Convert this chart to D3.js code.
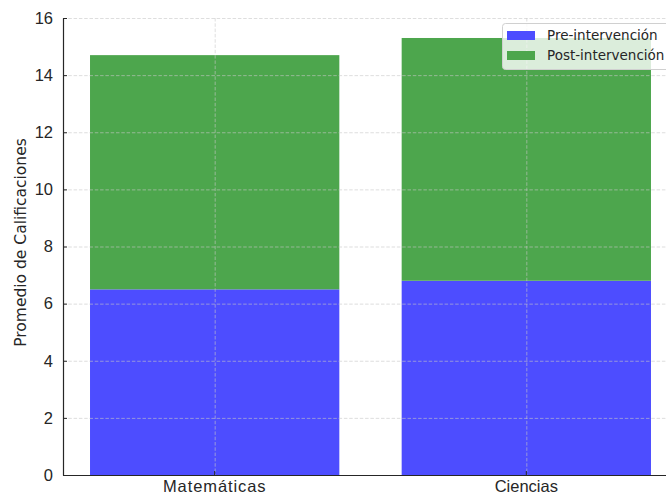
<!DOCTYPE html>
<html>
<head>
<meta charset="utf-8">
<script src="https://cdn.jsdelivr.net/npm/d3@7"></script>
<style>
  html, body { margin: 0; padding: 0; background: #fff; }
  svg { display: block; font-family: "DejaVu Sans", sans-serif; }
</style>
</head>
<body>
<svg id="chart" width="666" height="493"></svg>
<script>
// Average grades per subject, before and after the intervention
const subjects = ["Matemáticas", "Ciencias"];
const preIntervention = [6.5, 6.8];
const postIntervention = [8.2, 8.5];
const yTicks = [0, 2, 4, 6, 8, 10, 12, 14, 16];
const seriesNames = ["Pre-intervención", "Post-intervención"];
const seriesColors = ["rgb(77,77,255)", "rgb(77,166,77)"];

const svg = d3.select("#chart");
const W = 666, H = 493;
const plot = { left: 63, top: 18, bottom: 475, right: 678 };

const x = d3.scaleBand()
  .domain(subjects)
  .range([plot.left, plot.right])
  .paddingInner(0.2)
  .paddingOuter(0.0867);

const y = d3.scaleLinear().domain([0, 16]).range([plot.bottom, plot.top]);

// Stack the two series on top of each other
const rows = subjects.map((s, i) => ({ subject: s, pre: preIntervention[i], post: postIntervention[i] }));
const stacked = d3.stack().keys(["pre", "post"])(rows);

const bars = svg.append("g");
stacked.forEach((layer, li) => {
  bars.selectAll(null)
    .data(layer)
    .join("rect")
    .attr("x", d => x(d.data.subject))
    .attr("width", x.bandwidth())
    .attr("y", d => y(d[1]))
    .attr("height", d => y(d[0]) - y(d[1]))
    .attr("fill", seriesColors[li]);
});

// Dashed grid drawn over the bars
const grid = svg.append("g")
  .attr("stroke", "#c8c8c8")
  .attr("stroke-opacity", 0.75)
  .attr("stroke-width", 0.8)
  .attr("stroke-dasharray", "3.5,1.8");
grid.selectAll(".hg")
  .data(yTicks)
  .join("line")
  .attr("x1", plot.left).attr("x2", W)
  .attr("y1", d => y(d) + 0.5).attr("y2", d => y(d) + 0.5);
grid.selectAll(".vg")
  .data(subjects)
  .join("line")
  .attr("x1", d => x(d) + x.bandwidth() / 2 + 0.5)
  .attr("x2", d => x(d) + x.bandwidth() / 2 + 0.5)
  .attr("y1", plot.top).attr("y2", plot.bottom);

// Axes with inward ticks
const yAxis = svg.append("g")
  .attr("transform", `translate(${plot.left},0)`)
  .call(d3.axisLeft(y).tickValues(yTicks).tickSizeInner(-4).tickSizeOuter(0).tickPadding(10));
yAxis.select(".domain").attr("stroke", "#262626").attr("stroke-width", 1.2);
yAxis.selectAll(".tick line").attr("stroke", "#262626");
yAxis.selectAll("text")
  .attr("fill", "#262626")
  .style("font-size", "16.5px");

const xAxis = svg.append("g")
  .attr("transform", `translate(0,${plot.bottom})`)
  .call(d3.axisBottom(x).tickSizeInner(-4).tickSizeOuter(0).tickPadding(5));
xAxis.select(".domain").attr("stroke", "#262626").attr("stroke-width", 1.2);
xAxis.selectAll(".tick line").attr("stroke", "#262626");
xAxis.selectAll("text")
  .attr("fill", "#262626")
  .style("font-size", "16.5px");
xAxis.selectAll(".tick text")
  .filter(d => d === "Matemáticas")
  .style("letter-spacing", "0.9px");

// Y axis title
svg.append("text")
  .attr("transform", `translate(26,${(plot.top + plot.bottom) / 2 - 4}) rotate(-90)`)
  .attr("text-anchor", "middle")
  .attr("fill", "#262626")
  .style("font-size", "15.5px")
  .text("Promedio de Calificaciones");

// Legend in the upper right
const legend = svg.append("g").attr("transform", "translate(502,23)");
legend.append("rect")
  .attr("x", 0.5).attr("y", 0.5)
  .attr("width", 180).attr("height", 46)
  .attr("rx", 3)
  .attr("fill", "rgba(255,255,255,0.8)")
  .attr("stroke", "#d0d0d0");
seriesNames.forEach((name, i) => {
  const row = legend.append("g").attr("transform", `translate(5,${8 + i * 20})`);
  row.append("rect")
    .attr("width", 28).attr("height", 9)
    .attr("fill", seriesColors[i]);
  row.append("text")
    .attr("x", 40).attr("y", 4.5)
    .attr("dy", "0.35em")
    .attr("fill", "#262626")
    .style("font-size", "13.5px")
    .text(name);
});
</script>
</body>
</html>
